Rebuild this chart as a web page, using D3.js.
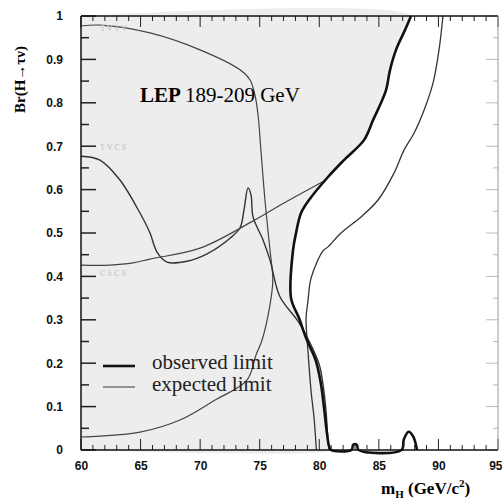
<!DOCTYPE html>
<html>
<head>
<meta charset="utf-8">
<script src="https://cdn.jsdelivr.net/npm/d3@7"></script>
<style>
body{margin:0;background:#fff}
svg{font-family:"Liberation Serif","DejaVu Serif",serif}
.axis text{font-weight:bold;font-size:12px;fill:#111}
.axis path{display:none}
.axis line{stroke:#222}
</style>
</head>
<body>
<svg id="plot" width="502" height="502"></svg>
<script>
// tick values and labels
const xTicks=[60,65,70,75,80,85,90,95]
const xTickLabels=["60","65","70","75","80","85","90","95"]
const yTicks=[0,0.1,0.2,0.3,0.4,0.5,0.6,0.7,0.8,0.9,1]
const yTickLabels=["0","0.1","0.2","0.3","0.4","0.5","0.6","0.7","0.8","0.9","1"]

// observed limit (thick), m_H and Br
const obsM=[87.7,87.2,86.44,85.94,85.6,85.1,84.51,83.75,82.07,80.73,79.14,78.47,78.05,77.79,77.63,78.3,78.89,79.72,80.14,80.4,80.65,80.82,80.98,82.7,82.85,83.15,83.3,86.9,87.1,87.5,87.9,88.2]
const obsBr=[1,0.968,0.922,0.876,0.829,0.795,0.76,0.714,0.668,0.629,0.576,0.546,0.5,0.459,0.35,0.304,0.258,0.205,0.152,0.097,0.037,0.009,0,0,0.012,0.012,0,0,0.025,0.042,0.03,0]

// expected limit (thin)
const expM=[90.38,90.05,89.55,88.79,87.95,87.11,86.27,84.93,83.5,81.82,80.73,80.31,79.31,79.05,78.89,79.05,79.31,79.56,79.72,79.76]
const expBr=[1,0.922,0.846,0.783,0.73,0.691,0.638,0.576,0.537,0.5,0.468,0.459,0.396,0.343,0.304,0.228,0.136,0.074,0.014,0]

// contour starting high at 60 GeV and closing back to low Br
const c1M=[60,61.6,65.79,69.99,73.35,74.18,74.6,74.86,75.1,75.44,75.86,76.1,75.86,75.19,74.69,73.93,71.25,68.31,64.95,61.59,60]
const c1Br=[0.977,0.979,0.961,0.922,0.876,0.853,0.818,0.772,0.691,0.576,0.461,0.392,0.334,0.253,0.219,0.161,0.115,0.069,0.041,0.032,0.03]

// contour with the peak near 74 GeV
const c2M=[60,61.59,63.27,64.95,65.79,66.38,67.22,68.9,70.58,72.51,73.35,73.68,74.02,74.27,74.44,75.28,75.86,76.7,78.21,79.14,79.98,80.31,80.56,80.73,80.82]
const c2Br=[0.677,0.668,0.622,0.546,0.5,0.456,0.433,0.435,0.452,0.488,0.512,0.553,0.604,0.588,0.537,0.484,0.438,0.353,0.297,0.251,0.198,0.152,0.092,0.023,0]

// rising contour from 0.42
const c3M=[60,62.43,64.36,65.79,69.99,74.27,77.04,80.56]
const c3Br=[0.426,0.426,0.431,0.44,0.465,0.525,0.569,0.622]

const svg=d3.select("#plot")
const x=d3.scaleLinear().domain([60,95]).range([81,498])
const y=d3.scaleLinear().domain([0,1]).range([450,16])
const line=d3.line().x(d=>x(d[0])).y(d=>y(d[1])).curve(d3.curveCatmullRom.alpha(0.5))
const pts=(a,b)=>a.map((v,i)=>[v,b[i]])

// shaded excluded region left of observed curve
const obsPts=pts(obsM,obsBr).slice(0,23)
const shade=[[60,1]].concat(obsPts).concat([[60,0]])
svg.append("path")
  .attr("d",line(shade)+"Z")
  .attr("fill","#ededed")

// curves
svg.append("path").attr("d",line(pts(c1M,c1Br))).attr("fill","none").attr("stroke","#444").attr("stroke-width",1.2)
svg.append("path").attr("d",line(pts(c2M,c2Br))).attr("fill","none").attr("stroke","#333").attr("stroke-width",1.4)
svg.append("path").attr("d",line(pts(c3M,c3Br))).attr("fill","none").attr("stroke","#444").attr("stroke-width",1.2)
svg.append("path").attr("d",line(pts(expM,expBr))).attr("fill","none").attr("stroke","#333").attr("stroke-width",1.3)
svg.append("path").attr("d",line(pts(obsM,obsBr))).attr("fill","none").attr("stroke","#111").attr("stroke-width",2.6)

// faint channel labels
const faint=[["τντν",0.975],["τνcs",0.7],["cscs",0.41]]
faint.forEach(f=>{
  svg.append("text").attr("x",x(61.6)).attr("y",y(f[1])).attr("dy","0.35em")
    .attr("font-size",12).attr("fill","#c8c8c8").attr("letter-spacing",2).text(f[0])
})

// axes: minor ticks
const xMinor=d3.range(60,95.01,1)
const yMinor=d3.range(0,1.001,0.05)
const g=svg.append("g")
xMinor.forEach(v=>{
  const len=(v%5===0)?11:5
  g.append("line").attr("x1",x(v)).attr("x2",x(v)).attr("y1",y(0)).attr("y2",y(0)-len).attr("stroke","#222")
  g.append("line").attr("x1",x(v)).attr("x2",x(v)).attr("y1",y(1)).attr("y2",y(1)+len).attr("stroke","#222")
})
yMinor.forEach((v,i)=>{
  const len=(i%2===0)?15:8
  g.append("line").attr("x1",x(60)).attr("x2",x(60)+len).attr("y1",y(v)).attr("y2",y(v)).attr("stroke","#222").attr("stroke-width",1.5)
  g.append("line").attr("x1",x(95)).attr("x2",x(95)-len+3).attr("y1",y(v)).attr("y2",y(v)).attr("stroke","#bbb")
})

// tick labels through d3 axes
const xAxis=d3.axisBottom(x).tickValues(xTicks).tickFormat((d,i)=>xTickLabels[i]).tickSize(0).tickPadding(11)
const xg=svg.append("g").attr("class","axis").attr("transform",`translate(0,${y(0)})`).call(xAxis)
xg.selectAll(".tick text").filter(d=>d===95).attr("text-anchor","end").attr("dx",4)
const yAxis=d3.axisLeft(y).tickValues(yTicks).tickFormat((d,i)=>yTickLabels[i]).tickSize(0).tickPadding(18)
svg.append("g").attr("class","axis").attr("transform",`translate(${x(60)},0)`).call(yAxis)

// frame
svg.append("line").attr("x1",x(60)).attr("x2",x(60)).attr("y1",y(0)).attr("y2",y(1)).attr("stroke","#111").attr("stroke-width",1.5)
svg.append("line").attr("x1",x(60)).attr("x2",x(95)).attr("y1",y(0)).attr("y2",y(0)).attr("stroke","#111").attr("stroke-width",1.5)
svg.append("line").attr("x1",x(60)).attr("x2",x(95)).attr("y1",y(1)).attr("y2",y(1)).attr("stroke","#111").attr("stroke-width",1.5)
svg.append("line").attr("x1",x(95)).attr("x2",x(95)).attr("y1",y(0)).attr("y2",y(1)).attr("stroke","#999")

// title text
const t=svg.append("text").attr("x",140).attr("y",102).attr("font-size",21)
t.append("tspan").attr("font-weight","bold").text("LEP ")
t.append("tspan").text("189-209 GeV")

// legend
svg.append("line").attr("x1",103).attr("x2",135).attr("y1",366).attr("y2",366).attr("stroke","#111").attr("stroke-width",2.6)
svg.append("line").attr("x1",103).attr("x2",135).attr("y1",387).attr("y2",387).attr("stroke","#555").attr("stroke-width",1.2)
svg.append("text").attr("x",152).attr("y",369).attr("font-size",21).attr("fill","#222").text("observed limit")
svg.append("text").attr("x",152).attr("y",391).attr("font-size",21).attr("fill","#222").text("expected limit")

// axis titles
const xl=svg.append("text").attr("x",381).attr("y",494).attr("font-size",17).attr("font-weight","bold")
xl.append("tspan").text("m")
xl.append("tspan").attr("font-size",11).attr("dy",4).text("H")
xl.append("tspan").attr("dy",-4).text(" (GeV/c")
xl.append("tspan").attr("font-size",11).attr("dy",-7).text("2")
xl.append("tspan").attr("dy",7).text(")")

svg.append("text").attr("transform","translate(25,113) rotate(-90)").attr("font-size",15).attr("font-weight","bold").text("Br(H→τν)")
</script>
</body>
</html>
